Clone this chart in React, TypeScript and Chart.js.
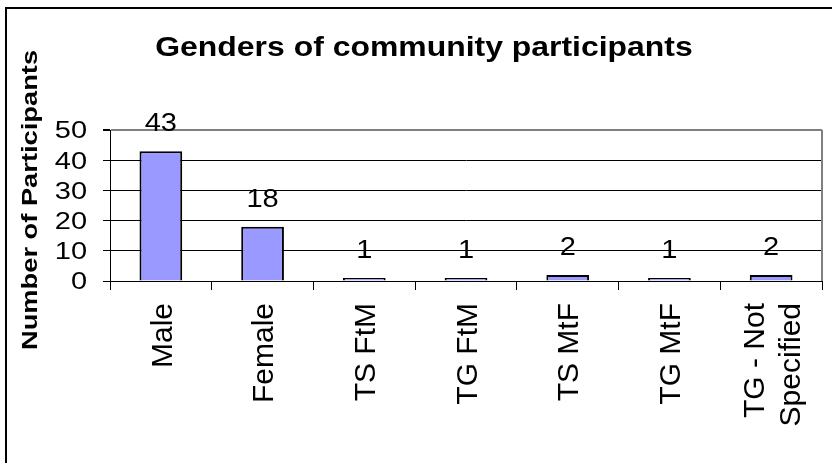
import React, { useEffect, useRef } from "react";
import { Chart, registerables } from "chart.js";

Chart.register(...registerables);

const categories = ["Male", "Female", "TS FtM", "TG FtM", "TS MtF", "TG MtF", "TG - Not Specified"];
const categoryLines = [["Male"], ["Female"], ["TS FtM"], ["TG FtM"], ["TS MtF"], ["TG MtF"], ["TG - Not", "Specified"]];
const participants = [43, 18, 1, 1, 2, 1, 2];
const yMin = 0;
const yMax = 50;
const yStep = 10;
const chartTitle = "Genders of community participants";
const yAxisTitle = "Number of Participants";

const FONT = "'Liberation Sans', Arial, Helvetica, sans-serif";

function drawText(
  ctx: CanvasRenderingContext2D,
  text: string,
  x: number,
  y: number,
  font: string,
  sx: number,
  align: CanvasTextAlign,
  rot = 0
) {
  ctx.save();
  ctx.translate(x, y);
  if (rot) ctx.rotate(rot);
  ctx.scale(sx, 1);
  ctx.font = font;
  ctx.textAlign = align;
  ctx.textBaseline = "alphabetic";
  ctx.fillStyle = "#000";
  ctx.fillText(text, 0, 0);
  ctx.restore();
}

const excelPlugin = {
  id: "excelText",
  beforeDatasetsDraw(chart: any) {
    const ctx = chart.ctx as CanvasRenderingContext2D;
    const a = chart.chartArea;
    ctx.save();
    ctx.strokeStyle = "#808080";
    ctx.lineWidth = 2;
    ctx.beginPath();
    ctx.moveTo(a.right, a.top);
    ctx.lineTo(a.right, a.bottom);
    ctx.stroke();
    ctx.restore();
  },
  afterDraw(chart: any) {
    const ctx = chart.ctx as CanvasRenderingContext2D;
    // outer frame
    ctx.save();
    ctx.fillStyle = "#000";
    ctx.fillRect(5, 7, chart.width - 5, 2);
    ctx.fillRect(5, 7, 2, chart.height - 7);
    ctx.restore();

    // title
    drawText(ctx, chartTitle, 424, 56, `bold 28px ${FONT}`, 1.14, "center");
    // y axis title
    drawText(ctx, yAxisTitle, 37, 200, `bold 22px ${FONT}`, 1.24, "center", -Math.PI / 2);

    // y tick labels
    const ys = chart.scales.y;
    ys.ticks.forEach((t: any) => {
      const py = ys.getPixelForValue(t.value);
      drawText(ctx, String(t.value), 87, py + 8.4, `23px ${FONT}`, 1.26, "right");
    });

    // x tick labels
    const xs = chart.scales.x;
    categoryLines.forEach((lines, i) => {
      const px = xs.getPixelForTick(i);
      const n = lines.length;
      lines.forEach((line, j) => {
        const off = (j - (n - 1) / 2) * 36;
        drawText(ctx, line, px + off + 10.7, 303, `30px ${FONT}`, 1, "right", -Math.PI / 2);
      });
    });

    // data labels
    const meta = chart.getDatasetMeta(0);
    meta.data.forEach((bar: any, i: number) => {
      drawText(ctx, String(participants[i]), bar.x, bar.y - 20, `25px ${FONT}`, 1.16, "center");
    });
  },
};

export default function App() {
  const ref = useRef<HTMLCanvasElement>(null);

  useEffect(() => {
    if (!ref.current) return;
    const chart = new Chart(ref.current, {
      type: "bar",
      data: {
        labels: categories,
        datasets: [
          {
            label: "Participants",
            data: participants,
            backgroundColor: "#9999FF",
            borderColor: "#000000",
            borderWidth: 2,
            barPercentage: 0.42,
            categoryPercentage: 1,
          },
        ],
      },
      options: {
        responsive: false,
        animation: false,
        layout: { padding: { left: 0, top: 130, right: 10, bottom: 0 } },
        plugins: {
          legend: { display: false },
          title: { display: false },
          tooltip: { enabled: false },
        },
        scales: {
          x: {
            ticks: { display: false },
            grid: {
              offset: true,
              drawOnChartArea: false,
              drawTicks: true,
              tickLength: 9,
              color: "#000",
            },
            border: { display: true, color: "#000", width: 1 },
            afterFit: (s: any) => {
              s.height = 182;
            },
          },
          y: {
            min: yMin,
            max: yMax,
            ticks: { display: false, stepSize: yStep },
            grid: {
              drawTicks: true,
              tickLength: 7,
              tickColor: "#000",
              color: (c: any) => (c.tick && c.tick.value === yMax ? "#808080" : "#000"),
              lineWidth: (c: any) => (c.tick && c.tick.value === yMax ? 2 : 1),
            },
            border: { display: true, color: "#000", width: 1 },
            afterFit: (s: any) => {
              s.width = 110;
            },
          },
        },
      },
      plugins: [excelPlugin],
    });
    return () => chart.destroy();
  }, []);

  return (
    <div style={{ position: "absolute", left: 0, top: 0, width: 832, height: 463, background: "#fff" }}>
      <canvas ref={ref} width={832} height={463} style={{ width: 832, height: 463, display: "block" }} />
    </div>
  );
}
